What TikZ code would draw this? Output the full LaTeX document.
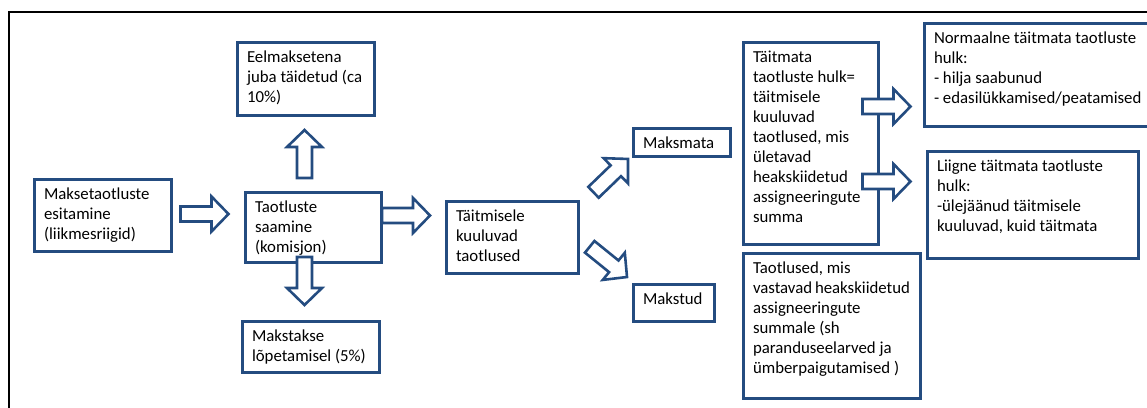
\documentclass[tikz,border=0pt]{standalone}
\usepackage{fontspec}
\setmainfont{Carlito}
\definecolor{bl}{RGB}{36,76,128}
\newcommand\bt[3]{\parbox[t][#2][t]{#1}{\raggedright\hfuzz=50pt\rule{0pt}{12pt}#3}}
\tikzset{
  box/.style={draw=bl, line width=3pt, anchor=north west, inner xsep=10pt, inner ysep=8pt, outer sep=0pt, fill=white,
    font=\fontsize{16.8}{20}\selectfont},
  arrowsty/.style={draw=bl, fill=white, line width=2.6pt, line join=miter},
  barrow/.pic={\draw[arrowsty] (0,-7.5) -- (31,-7.5) -- (31,-17.5) -- (48,0) -- (31,17.5) -- (31,7.5) -- (0,7.5) -- cycle;}
}
\begin{document}
\begin{tikzpicture}[x=1pt,y=-1pt]
\useasboundingbox (0,0) rectangle (1147,407);
\clip (0,0) rectangle (1147,407);
\draw[line width=2pt] (9,420) -- (9,12) -- (1160,12);
% boxes: width-20, height-16
\node[box] (b1) at (34,179) {\bt{117pt}{56pt}{Maksetaotluste\\esitamine\\(liikmesriigid)}};
\node[box] (b2) at (245,192) {\bt{116pt}{54pt}{Taotluste\\saamine\\(komisjon)}};
\node[box] (b3) at (237,42) {\bt{117pt}{57pt}{Eelmaksetena\\juba~täidetud~(ca\\10\%)}};
\node[box] (b4) at (242,321) {\bt{117pt}{35pt}{Makstakse\\lõpetamisel~(5\%)}};
\node[box] (b5) at (446,201) {\bt{112pt}{56pt}{Täitmisele\\kuuluvad\\taotlused}};
\node[box] (b6) at (633,128) {\bt{77pt}{12pt}{Maksmata}};
\node[box] (b7) at (633,284) {\bt{61pt}{21pt}{Makstud}};
\node[box] (b8) at (743,42) {\bt{115pt}{186pt}{Täitmata\\taotluste~hulk=\\täitmisele\\kuuluvad\\taotlused,~mis\\ületavad\\heakskiidetud\\assigneeringute\\summa}};
\node[box] (b9) at (743,253) {\bt{157pt}{129pt}{Taotlused,~mis\\vastavad~heakskiidetud\\assigneeringute\\summale~(sh\\paranduseelarved~ja\\ümberpaigutamised~)}};
\node[box] (b10) at (924,23) {\bt{216pt}{87pt}{Normaalne~täitmata~taotluste\\hulk:\\-~hilja~saabunud\\-~edasilükkamised/peatamised}};
\node[box] (b11) at (927,151) {\bt{191pt}{91pt}{Liigne~täitmata~taotluste\\hulk:\\-ülejäänud~täitmisele\\kuuluvad,~kuid~täitmata}};
% block arrows
\pic at (180.5,214) {barrow};
\pic at (382,215.5) {barrow};
\pic[rotate=90] at (304.5,178) {barrow};
\pic[rotate=-90] at (304.5,257) {barrow};
\pic[rotate=44] at (593.5,192.3) {barrow};
\pic[rotate=-39] at (589.7,246.8) {barrow};
\pic at (862.5,106.5) {barrow};
\pic at (862.5,181.5) {barrow};
\end{tikzpicture}
\end{document}
